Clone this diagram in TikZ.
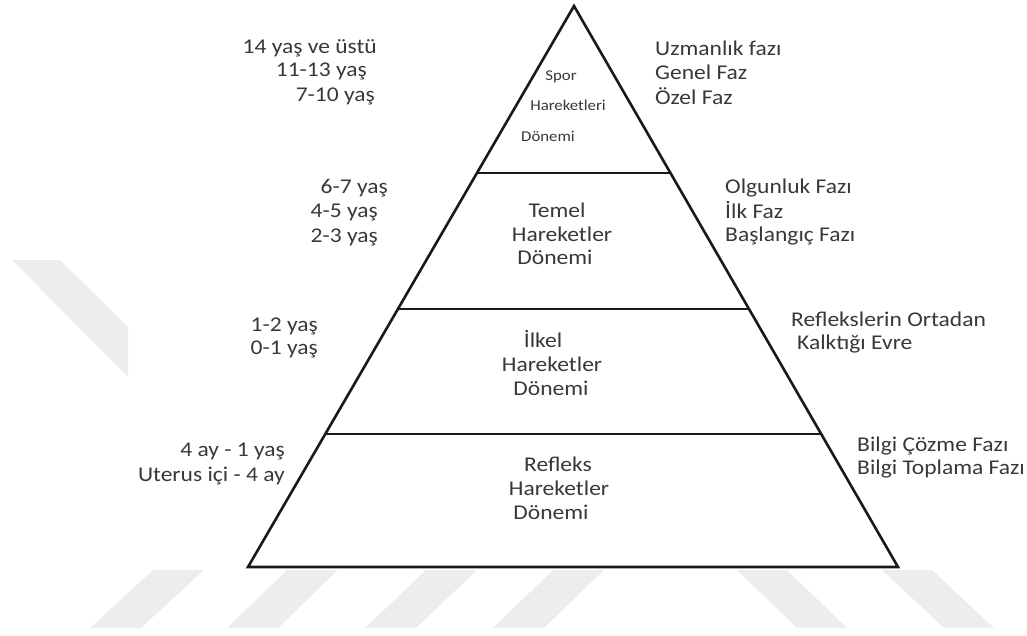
\documentclass[tikz,border=0pt]{standalone}
\usepackage{fontspec}
\setmainfont{Carlito}[FakeStretch=1.12]
\usetikzlibrary{calc}
\begin{document}
\begin{tikzpicture}[x=1pt,y=-1pt,
    every node/.style={inner sep=0, text=black!78, font=\fontsize{21}{24}\selectfont},
    age/.style={anchor=base east},
    phase/.style={anchor=base west},
    tier/.style={anchor=base},
    small/.style={font=\fontsize{15}{18}\selectfont},
    stripe/.style={fill=black!7, draw=none},
    edge/.style={line width=2.6pt, line join=miter, draw=black!90},
  ]
  \useasboundingbox (0,0) rectangle (1027,635);
  % watermark bands
  \fill[stripe] (12,260) -- (60,260) -- (128,327) -- (128,377) -- cycle;
  \foreach \tx/\bx in {153/90, 287/227, 426/365, 553/493}
    \fill[stripe] (\tx,570) -- (\tx+51,570) -- (\bx+51,628) -- (\bx,628) -- cycle;
  \foreach \tx/\bx in {737/797, 882/944}
    \fill[stripe] (\tx,570) -- (\tx+50,570) -- (\bx+50,628) -- (\bx,628) -- cycle;
  % pyramid
  \coordinate (apex) at (574,6);
  \coordinate (bl) at (248,567);
  \coordinate (br) at (898,567);
  \coordinate (l1) at ($(apex)!0.2977!(bl)$);
  \coordinate (r1) at ($(apex)!0.2977!(br)$);
  \coordinate (l2) at ($(apex)!0.5401!(bl)$);
  \coordinate (r2) at ($(apex)!0.5401!(br)$);
  \coordinate (l3) at ($(apex)!0.7629!(bl)$);
  \coordinate (r3) at ($(apex)!0.7629!(br)$);
  \draw[edge] (apex) -- (bl) -- (br) -- cycle;
  \draw[edge] (l1) -- (r1);
  \draw[edge] (l2) -- (r2);
  \draw[edge] (l3) -- (r3);
  % tiers
  \node[tier, small] (spor) at (561,80) {Spor};
  \node[tier, small] (sporhar) at (568,110) {Hareketleri};
  \node[tier, small] (spordon) at (548,141) {Dönemi};
  \node[tier] (temel) at (557,217) {Temel};
  \node[tier] (temelhar) at (562,241) {Hareketler};
  \node[tier] (temeldon) at (555,264) {Dönemi};
  \node[tier] (ilkel) at (543,347) {İlkel};
  \node[tier] (ilkelhar) at (552,371) {Hareketler};
  \node[tier] (ilkeldon) at (551,395) {Dönemi};
  \node[tier] (refleks) at (558,471) {Refleks};
  \node[tier] (reflekshar) at (559,495) {Hareketler};
  \node[tier] (refleksdon) at (551,519) {Dönemi};
  % ages
  \node[age] (a14) at (377,53) {14 yaş ve üstü};
  \node[age] (a11) at (367,76) {11-13 yaş};
  \node[age] (a7) at (375,101) {7-10 yaş};
  \node[age] (a6) at (388,193) {6-7 yaş};
  \node[age] (a4) at (378,217) {4-5 yaş};
  \node[age] (a2) at (378,242) {2-3 yaş};
  \node[age] (a1) at (318,331) {1-2 yaş};
  \node[age] (a0) at (318,354) {0-1 yaş};
  \node[age] (m4) at (285,456) {4 ay - 1 yaş};
  \node[age] (ut) at (285,481) {Uterus içi - 4 ay};
  % phases
  \node[phase] (uzm) at (655,55) {Uzmanlık fazı};
  \node[phase] (gen) at (655,79) {Genel Faz};
  \node[phase] (oze) at (655,104) {Özel Faz};
  \node[phase] (olg) at (725,193) {Olgunluk Fazı};
  \node[phase] (ilk) at (725,218) {İlk Faz};
  \node[phase] (bas) at (725,241) {Başlangıç Fazı};
  \node[phase] (ort) at (791,326) {Reflekslerin Ortadan};
  \node[phase] (kal) at (797,349) {Kalktığı Evre};
  \node[phase] (coz) at (857,451) {Bilgi Çözme Fazı};
  \node[phase] (top) at (857,474) {Bilgi Toplama Fazı};
\end{tikzpicture}
\end{document}
